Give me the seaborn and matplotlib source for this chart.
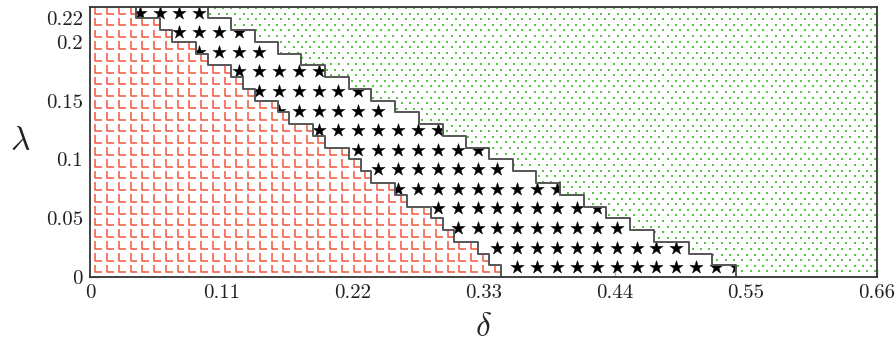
import numpy as np
import matplotlib
matplotlib.use("Agg")
import matplotlib.pyplot as plt
import seaborn as sns
from matplotlib.path import Path
from matplotlib.patches import Polygon
from matplotlib.markers import MarkerStyle

# -----------------------------
# Data
# -----------------------------
# lambda rows (edges) of the phase map
lam_edges = [0.00, 0.01, 0.02, 0.03, 0.04, 0.05, 0.06, 0.07, 0.08, 0.09, 0.10, 0.11,
             0.12, 0.13, 0.14, 0.15, 0.16, 0.17, 0.18, 0.19, 0.20, 0.21, 0.22, 0.23]
# right end of the red (L) region, one value per lambda row
red_edge = [0.345, 0.335, 0.325, 0.305, 0.296, 0.286, 0.266, 0.256, 0.236, 0.227, 0.217, 0.197,
            0.187, 0.167, 0.158, 0.138, 0.128, 0.118, 0.099, 0.089, 0.069, 0.059, 0.039]
# left start of the green (dots) region, one value per lambda row
green_edge = [0.542, 0.522, 0.502, 0.473, 0.453, 0.433, 0.414, 0.394, 0.374, 0.355, 0.335, 0.315,
              0.296, 0.276, 0.256, 0.236, 0.217, 0.197, 0.177, 0.158, 0.138, 0.118, 0.099]

x_ticks = [0, 0.11, 0.22, 0.33, 0.44, 0.55, 0.66]
x_labels = ["0", "0.11", "0.22", "0.33", "0.44", "0.55", "0.66"]
y_ticks = [0, 0.05, 0.1, 0.15, 0.2, 0.22]
y_labels = ["0", "0.05", "0.1", "0.15", "0.2", "0.22"]

X_MAX = 0.66
Y_MAX = 0.23
STAR_STEP = 1 / 60     # spacing of the star marks
CELL_D = 0.00985       # spacing of the red L pattern
CELL_L = 0.01

# -----------------------------
# Style
# -----------------------------
sns.set_theme(style="white")
plt.rcParams["font.family"] = "serif"
plt.rcParams["font.serif"] = ["cmr10", "DejaVu Serif"]
plt.rcParams["mathtext.fontset"] = "cm"
plt.rcParams["axes.unicode_minus"] = False

fig = plt.figure(figsize=(8.96, 3.45), dpi=100)
ax = fig.add_axes([0.1004, 0.197, 0.8784, 0.7836])

lam = np.array(lam_edges)
ys = np.column_stack([lam[:-1], lam[1:]]).ravel()
red_x = np.repeat(red_edge, 2)
green_x = np.repeat(green_edge, 2)

# -----------------------------
# Stars in the middle region
# -----------------------------
sd = (np.arange(40) + 0.5) * STAR_STEP
sl = (np.arange(14) + 0.5) * STAR_STEP
gd, gl = np.meshgrid(sd, sl)
gd, gl = gd.ravel(), gl.ravel()
row = np.clip((gl / CELL_L).astype(int), 0, len(red_edge) - 1)
inside = (gd > np.array(red_edge)[row]) & (gd < np.array(green_edge)[row]) & (gl < Y_MAX)
sns.scatterplot(x=gd[inside], y=gl[inside], marker="*", s=100, color="black",
                edgecolor="black", linewidth=0.3, ax=ax, zorder=2)

# -----------------------------
# Red and green regions
# -----------------------------
red_poly = Polygon([(0, 0)] + list(zip(red_x, ys)) + [(0, Y_MAX)],
                   closed=True, facecolor="white", edgecolor="none", zorder=3)
green_poly = Polygon(list(zip(green_x, ys)) + [(X_MAX, Y_MAX), (X_MAX, 0)],
                     closed=True, facecolor="white", edgecolor="none", zorder=3)
ax.add_patch(red_poly)
ax.add_patch(green_poly)

# L pattern for the red region
l_path = Path([(0, 7.6), (0, 0), (6.8, 0)], [Path.MOVETO, Path.LINETO, Path.LINETO])
l_marker = MarkerStyle(l_path, fillstyle="none")
ld, ll = np.meshgrid(0.0045 + np.arange(68) * CELL_D, 0.004 + np.arange(23) * CELL_L)
ax.scatter(ld.ravel(), ll.ravel(), marker=l_marker, s=(2 * 7.6 * 0.72) ** 2,
           color="#f4553d", linewidths=1.1, zorder=4, clip_path=red_poly)

# dot pattern for the green region
dd, dl = np.meshgrid(np.arange(0, X_MAX + 0.01, 0.00697), np.arange(0, Y_MAX + 0.01, 0.00477))
dd = dd + (np.arange(dd.shape[0])[:, None] % 2) * 0.00348
ax.scatter(dd.ravel(), dl.ravel(), marker="s", s=3.6, color="#5cc148",
           linewidths=0, zorder=4, clip_path=green_poly)

# staircase borders
ax.plot(red_x, ys, color="#555555", lw=1.4, zorder=5)
ax.plot(green_x, ys, color="#555555", lw=1.4, zorder=5)

# -----------------------------
# Axes
# -----------------------------
ax.set_xlim(0, X_MAX)
ax.set_ylim(0, Y_MAX)
ax.set_xticks(x_ticks)
ax.set_xticklabels(x_labels)
ax.set_yticks(y_ticks)
ax.set_yticklabels(y_labels)
ax.tick_params(direction="in", length=7, width=1, color="#b5b5b5", labelsize=15,
               labelcolor="#222222", pad=5, bottom=True, left=True, zorder=6)
for sp in ax.spines.values():
    sp.set_color("#333333")
    sp.set_linewidth(1.3)
    sp.set_zorder(7)

ax.set_xlabel(r"$\delta$", fontsize=24, color="#222222")
ax.set_ylabel(r"$\lambda$", fontsize=24, rotation=0, color="#222222")
ax.xaxis.set_label_coords(0.5, -0.185)
ax.xaxis.label.set_verticalalignment("center")
ax.yaxis.set_label_coords(-0.089, 0.5)
ax.yaxis.label.set_verticalalignment("center")

fig.savefig("out.png", dpi=100)
